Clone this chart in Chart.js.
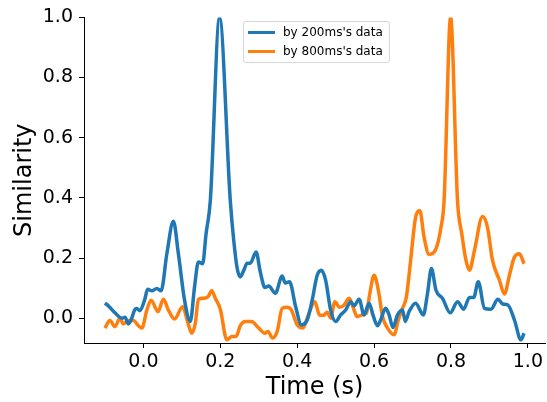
<!DOCTYPE html>
<html>
<head>
<meta charset="utf-8">
<script src="https://cdn.jsdelivr.net/npm/chart.js@4.4.1/dist/chart.umd.min.js"></script>
<style>
    body { margin: 0; background: #fff; }
    #wrap { position: relative; width: 547px; height: 402px; }
    .legend {
        position: absolute; left: 243px; top: 21px; width: 145px; height: 40px;
        border: 1px solid #d6d6d6; border-radius: 3px; background: rgba(255, 255, 255, 0.8);
        font: 12px 'DejaVu Sans', sans-serif; color: #000;
    }
    .legend .row { position: absolute; left: 4px; height: 14px; display: flex; align-items: center; white-space: nowrap; }
    .legend .swatch { width: 27px; height: 3px; margin-right: 8px; }
</style>
</head>
<body>
<div id="wrap">
    <canvas id="simChart" width="547" height="402"></canvas>
    <div class="legend">
        <div class="row" style="top:3px"><span class="swatch" style="background:#1f77b4"></span>by 200ms's data</div>
        <div class="row" style="top:22px"><span class="swatch" style="background:#ff7f0e"></span>by 800ms's data</div>
    </div>
</div>
<script>
// ---- data ----

const blueTimes = [-0.10, -0.091, -0.074, -0.056, -0.048, -0.039, -0.032, -0.023, -0.017, -0.009,
    0.003, 0.011, 0.022, 0.035, 0.046, 0.061, 0.078, 0.091, 0.107, 0.122,
    0.133, 0.143, 0.154, 0.163, 0.174, 0.198, 0.226, 0.235, 0.244, 0.252,
    0.261, 0.270, 0.278, 0.293, 0.304, 0.316, 0.326, 0.343, 0.361, 0.369,
    0.380, 0.396, 0.411, 0.426, 0.439, 0.452, 0.463, 0.474, 0.487, 0.500,
    0.513, 0.526, 0.539, 0.548, 0.561, 0.574, 0.587, 0.597, 0.609, 0.617,
    0.630, 0.639, 0.649, 0.661, 0.674, 0.681, 0.691, 0.708, 0.728, 0.739,
    0.749, 0.761, 0.778, 0.798, 0.817, 0.833, 0.848, 0.859, 0.871, 0.887,
    0.904, 0.922, 0.935, 0.948, 0.965, 0.982, 0.99];
const blueValues = [0.050, 0.041, 0.018, 0.0, 0.003, -0.019, -0.006, 0.027, 0.032, 0.025,
    0.060, 0.096, 0.091, 0.099, 0.091, 0.214, 0.322, 0.214, 0.060, -0.011,
    0.104, 0.187, 0.181, 0.281, 0.39, 1.0, 0.39, 0.258, 0.165, 0.137,
    0.159, 0.183, 0.183, 0.220, 0.154, 0.102, 0.107, 0.083, 0.140, 0.117,
    0.121, 0.038, -0.022, -0.006, 0.060, 0.143, 0.159, 0.126, 0.027, -0.011,
    0.011, 0.027, 0.055, 0.041, 0.063, 0.011, 0.050, 0.011, -0.025, -0.006,
    0.033, 0.011, -0.031, 0.011, 0.027, -0.011, 0.022, 0.050, 0.011, 0.083,
    0.165, 0.093, 0.066, 0.018, 0.055, 0.030, 0.069, 0.069, 0.121, 0.033,
    0.030, 0.063, 0.047, 0.044, -0.006, -0.072, -0.050];

const orangeTimes = [-0.10, -0.087, -0.074, -0.061, -0.052, -0.039, -0.026, -0.013, -0.004, 0.009,
    0.020, 0.038, 0.052, 0.065, 0.081, 0.102, 0.116, 0.126, 0.135, 0.143,
    0.156, 0.168, 0.178, 0.187, 0.200, 0.217, 0.230, 0.241, 0.252, 0.265,
    0.281, 0.300, 0.316, 0.324, 0.336, 0.348, 0.361, 0.374, 0.385, 0.400,
    0.415, 0.429, 0.446, 0.458, 0.469, 0.478, 0.487, 0.498, 0.510, 0.522,
    0.535, 0.545, 0.556, 0.569, 0.580, 0.589, 0.600, 0.611, 0.622, 0.635,
    0.652, 0.663, 0.674, 0.684, 0.695, 0.708, 0.719, 0.730, 0.743, 0.759,
    0.774, 0.782, 0.799, 0.817, 0.828, 0.839, 0.848, 0.861, 0.882, 0.895,
    0.908, 0.926, 0.939, 0.952, 0.965, 0.978, 0.99];
const orangeValues = [-0.033, -0.008, -0.028, 0.0, -0.019, -0.008, -0.008, -0.025, -0.033, 0.027,
    0.060, 0.022, 0.063, 0.027, -0.003, 0.038, -0.017, -0.050, -0.017, 0.063,
    0.066, 0.071, 0.091, 0.066, 0.030, -0.072, -0.061, -0.061, -0.025, -0.011,
    -0.011, -0.033, -0.050, -0.044, -0.066, -0.044, 0.033, 0.036, 0.027, -0.022,
    -0.033, 0.011, 0.055, 0.010, 0.010, 0.020, 0.000, 0.055, 0.036, 0.044,
    0.066, 0.038, 0.005, 0.011, 0.016, 0.083, 0.143, 0.093, 0.005, -0.033,
    -0.055, -0.006, 0.033, 0.071, 0.192, 0.335, 0.357, 0.269, 0.212, 0.225,
    0.302, 0.39, 1.0, 0.39, 0.281, 0.192, 0.159, 0.225, 0.338, 0.302,
    0.192, 0.126, 0.080, 0.143, 0.203, 0.214, 0.181];

const seriesNames = ["by 200ms's data", "by 800ms's data"];
const xTickValues = [0, 0.2, 0.4, 0.6, 0.8, 1.0];
const yTickValues = [0, 0.2, 0.4, 0.6, 0.8, 1.0];

// ---- chart ----

const FONT = "'DejaVu Sans', sans-serif";
const toPoints = (xs, ys) => xs.map((x, i) => ({ x: x, y: ys[i] }));

function axisStyle(tickValues) {
    return {
        type: 'linear',
        afterBuildTicks: scale => { scale.ticks = tickValues.map(v => ({ value: v })); },
        grid: { display: true, drawOnChartArea: false, drawTicks: true, tickLength: 5, color: '#000', lineWidth: 1 },
        border: { display: true, color: '#000', width: 1 },
        ticks: {
            color: '#000',
            font: { family: FONT, size: 19 },
            maxRotation: 0,
            autoSkip: false,
            callback: v => v.toFixed(1),
        },
    };
}

const xAxis = axisStyle(xTickValues);
Object.assign(xAxis, {
    min: -0.1545, max: 1.0445,
    afterFit: scale => { scale.height = 59; },
    title: { display: true, text: 'Time (s)', color: '#000', font: { family: FONT, size: 24 }, padding: { top: 0, bottom: 0 } },
});
xAxis.ticks.padding = 3;

const yAxis = axisStyle(yTickValues);
Object.assign(yAxis, {
    min: -0.0825, max: 1.0,
    afterFit: scale => { scale.width = 84; },
    title: { display: true, text: 'Similarity', color: '#000', font: { family: FONT, size: 24 }, padding: { top: 10, bottom: 0 } },
});
yAxis.ticks.padding = 6;

new Chart(document.getElementById('simChart'), {
    type: 'line',
    data: {
        datasets: [{
            label: seriesNames[0],
            data: toPoints(blueTimes, blueValues),
            borderColor: '#1f77b4',
        }, {
            label: seriesNames[1],
            data: toPoints(orangeTimes, orangeValues),
            borderColor: '#ff7f0e',
        }]
    },
    options: {
        responsive: false,
        animation: false,
        layout: { padding: { top: 15, right: 2, left: 0, bottom: 0 } },
        elements: {
            point: { radius: 0 },
            line: { borderWidth: 3.5, cubicInterpolationMode: 'monotone', fill: false },
        },
        plugins: { legend: { display: false }, tooltip: { enabled: false } },
        scales: { x: xAxis, y: yAxis },
    }
});
</script>
</body>
</html>
